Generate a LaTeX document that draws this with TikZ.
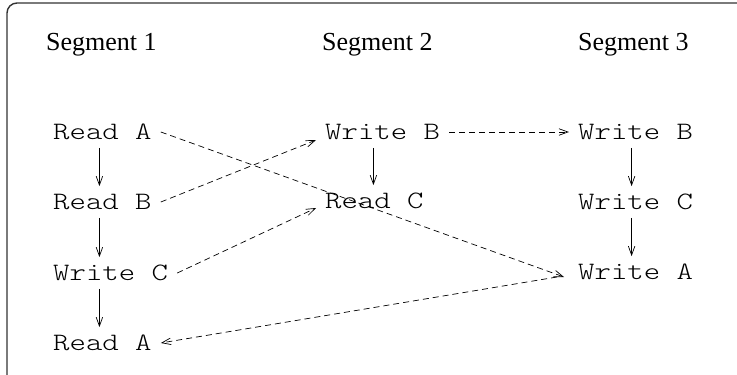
\documentclass[tikz,border=0pt]{standalone}
\usepackage{fontspec}
\setmainfont{Liberation Serif}
\setmonofont[FakeStretch=1.25]{lmmonolt10-regular.otf}
\usetikzlibrary{arrows.meta}

\begin{document}
\begin{tikzpicture}[x=1pt, y=-1pt,
   op/.style={font=\ttfamily\fontsize{25}{25}\selectfont, anchor=west,
              inner xsep=9pt, inner ysep=8pt, text height=15.3pt, text depth=0pt},
   seg/.style={font=\fontsize{26}{26}\selectfont, anchor=base west, inner sep=0pt},
   flow/.style={-{Straight Barb[length=9pt,width=6.5pt]}, line width=0.7pt},
   dep/.style={flow, dash pattern=on 6pt off 4pt}]
  \useasboundingbox (0,0) rectangle (737,375);
  \clip (0,0) rectangle (737,375);
  \draw[rounded corners=10pt, line width=1.4pt, black!80] (7,3) rectangle (780,420);

  % segment headings
  \node[seg] (s1) at (46,50)  {Segment 1};
  \node[seg] (s2) at (322,50) {Segment 2};
  \node[seg] (s3) at (578,50) {Segment 3};

  % operations
  \node[op] (rda1) at (44,132) {Read A};
  \node[op] (rdb1) at (44,202) {Read B};
  \node[op] (wrc1) at (44,273) {Write C};
  \node[op] (rda4) at (44,343) {Read A};
  \node[op] (wrb2) at (316,132) {Write B};
  \node[op] (rdc2) at (316,201) {Read C};
  \node[op] (wrb3) at (569,132) {Write B};
  \node[op] (wrc3) at (569,202) {Write C};
  \node[op] (wra3) at (569,272) {Write A};

  % program order inside a segment
  \foreach \s/\t/\c/\d in {rda1/rdb1/rda1/-3, rdb1/wrc1/rda1/-3, wrc1/rda4/rda1/-3,
                           wrb2/rdc2/rdc2/-1, wrb3/wrc3/wrb3/-4, wrc3/wra3/wrb3/-4}
     \draw[flow] ([xshift=\d pt]\s.south -| \c) -- ([xshift=\d pt]\t.north -| \c);

  % dependences across segments
  \draw[dep] (rda1.east) -- ([xshift=-5pt, yshift=-5pt]wra3.west);
  \draw[dep] (rdb1.east) -- ([yshift=-8pt]wrb2.west);
  \draw[dep] (wrc1.east) -- ([yshift=-7pt]rdc2.west);
  \draw[dep] (wrb2.east) -- (wrb3.west);
  \draw[dep] ([xshift=-12pt, yshift=-5pt]wra3.west) -- (rda4.east);
\end{tikzpicture}
\end{document}
